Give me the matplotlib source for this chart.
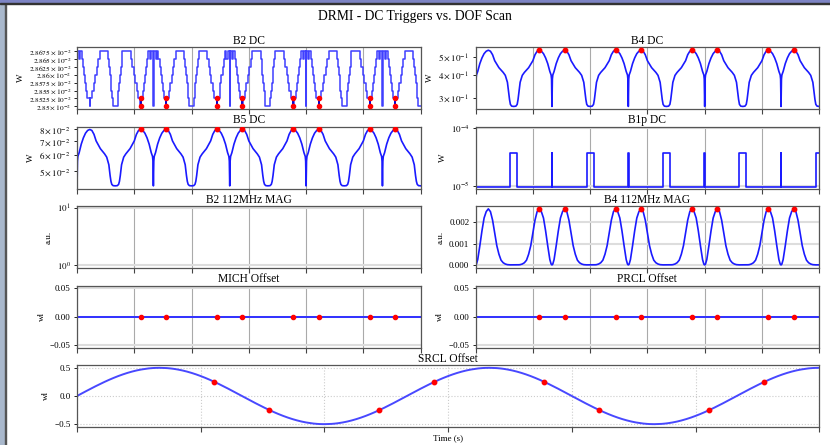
import numpy as np
import matplotlib
matplotlib.use('Agg')
import matplotlib.pyplot as plt
from matplotlib.ticker import NullLocator
from matplotlib.patches import Rectangle

plt.rcParams['font.family'] = 'serif'
plt.rcParams['font.serif'] = ['Liberation Serif', 'DejaVu Serif']
plt.rcParams['mathtext.fontset'] = 'stix'

# scan: 4.5 half-periods of the SRCL sweep (time axis in degrees of scan phase)
T_END = 810
SPAN = 180
srcl_sign = [1, -1, 1, -1, 1]

# sample times within one half-period
cycle_t = [0, 0.5, 1, 2, 5, 10, 15, 20, 25, 30, 35, 40, 45, 50, 55, 60, 65, 70, 75, 78, 80, 82, 85, 90,
           95, 98, 100, 102, 105, 110, 115, 120, 125, 130, 135, 140, 145, 150, 155, 160, 165, 170, 175,
           178, 179, 179.5]

srcl_abs = [0, 0.0044, 0.0087, 0.0174, 0.0436, 0.0868, 0.1294, 0.1710, 0.2113, 0.25, 0.2868, 0.3214,
            0.3536, 0.3830, 0.4096, 0.4330, 0.4532, 0.4698, 0.4830, 0.4891, 0.4924, 0.4951, 0.4981, 0.5,
            0.4981, 0.4951, 0.4924, 0.4891, 0.4830, 0.4698, 0.4532, 0.4330, 0.4096, 0.3830, 0.3536,
            0.3214, 0.2868, 0.25, 0.2113, 0.1710, 0.1294, 0.0868, 0.0436, 0.0174, 0.0087, 0.0044]

b4_dc = [0.270, 0.330, 0.380, 0.400, 0.418, 0.461, 0.495, 0.522, 0.538, 0.545, 0.538, 0.515, 0.478,
         0.458, 0.438, 0.425, 0.413, 0.398, 0.365, 0.322, 0.294, 0.277, 0.271, 0.270,
         0.271, 0.277, 0.294, 0.322, 0.365, 0.398, 0.413, 0.425, 0.438, 0.458, 0.478, 0.515, 0.538,
         0.545, 0.538, 0.522, 0.495, 0.461, 0.418, 0.400, 0.380, 0.330]

b5_dc = [0.0423, 0.050, 0.056, 0.0590, 0.0615, 0.0678, 0.0728, 0.0767, 0.0791, 0.0800, 0.0791, 0.0757,
         0.0703, 0.0673, 0.0644, 0.0625, 0.0607, 0.0585, 0.0537, 0.0475, 0.0445, 0.0430, 0.0424, 0.0423,
         0.0424, 0.0430, 0.0445, 0.0475, 0.0537, 0.0585, 0.0607, 0.0625, 0.0644, 0.0673, 0.0703, 0.0757,
         0.0791, 0.0800, 0.0791, 0.0767, 0.0728, 0.0678, 0.0615, 0.0590, 0.056, 0.050]

b4_mag = [0, 0.000003, 0.00001, 0.00004, 0.00025, 0.0009, 0.0016, 0.0022, 0.0025, 0.00263, 0.0025,
          0.0021, 0.0015, 0.0009, 0.0005, 0.00022, 0.0001, 0.00004, 0.00001, 0.000004, 0, 0, 0, 0,
          0, 0, 0, 0.000004, 0.00001, 0.00004, 0.0001, 0.00022, 0.0005, 0.0009, 0.0015, 0.0021, 0.0025,
          0.00263, 0.0025, 0.0022, 0.0016, 0.0009, 0.00025, 0.00004, 0.00001, 0.000003]

# quantized B2 DC (step starts, values in 1e-2 W)
b2_t = [0, 0.5, 5, 8, 12, 14.5, 17, 19.5, 22, 24, 29.5, 30.5, 36, 39.5, 43, 46, 49.5, 53, 73, 75, 77,
        79, 81, 82.5, 84, 96, 97.5, 99, 101, 103, 105, 107, 127, 130.5, 134, 137, 140.5, 144, 149.5,
        150.5, 156, 158, 160.5, 163, 165.5, 168, 172, 175, 179.5]
b2_dc = [2.85, 2.8675, 2.865, 2.8675, 2.865, 2.8625, 2.86, 2.8575, 2.855, 2.8525, 2.85, 2.8525, 2.855,
         2.8575, 2.86, 2.8625, 2.865, 2.8675, 2.865, 2.8625, 2.86, 2.8575, 2.855, 2.8525, 2.85, 2.8525,
         2.855, 2.8575, 2.86, 2.8625, 2.865, 2.8675, 2.865, 2.8625, 2.86, 2.8575, 2.855, 2.8525, 2.85,
         2.8525, 2.855, 2.8575, 2.86, 2.8625, 2.865, 2.8675, 2.865, 2.8675, 2.85]

b1p_t = [0, 1, 82, 98, 179.5]
b1p_dc = [3.75e-5, 9.6e-6, 3.75e-5, 9.6e-6, 3.75e-5]

mich_t = [0, 810]
mich_off = [0.0, 0.0]
prcl_off = [0.0, 0.0]

# trigger times and marked values
trig_t = [150, 210, 330, 390, 510, 570, 690, 750]
trig_b2_hi = [2.8525] * 8
trig_b2_lo = [2.85] * 8
trig_b4_dc = [0.545] * 8
trig_b5_dc = [0.080] * 8
trig_b4_mag = [0.00263] * 8
trig_mich = [0.0] * 8
trig_prcl = [0.0] * 8
trig_srcl = [0.25, -0.25, -0.25, 0.25, 0.25, -0.25, -0.25, 0.25]

b2_ticks = [2.85, 2.8525, 2.855, 2.8575, 2.86, 2.8625, 2.865, 2.8675]


def unroll(ct, cv, signs=(1, 1, 1, 1, 1)):
    t, v = [], []
    for k, sg in enumerate(signs):
        for a, b in zip(ct, cv):
            if k * SPAN + a <= T_END:
                t.append(k * SPAN + a)
                v.append(sg * b)
    if t[-1] < T_END:
        t.append(T_END)
        v.append(v[-1])
    return np.array(t), np.array(v)


BLUE = '#1a1aff'
FS_TICK = 6.5
FS_TITLE = 8.3

fig = plt.figure(figsize=(8.3, 4.45), dpi=100)
gs = fig.add_gridspec(5, 2, left=0.0928, right=0.987, top=0.894, bottom=0.0405,
                      hspace=0.282, wspace=0.16)

# screenshot window frame
fig.patches.append(Rectangle((0, 0), 5 / 830, 1, transform=fig.transFigure, color='#a9b8cc', zorder=-5))
fig.patches.append(Rectangle((5 / 830, 0), 1.2 / 830, 1, transform=fig.transFigure, color='#555555', zorder=-4))
fig.patches.append(Rectangle((0, 1 - 3 / 445), 1, 3 / 445, transform=fig.transFigure, color='#7d84c4', zorder=-3))
fig.patches.append(Rectangle((0, 1 - 4.2 / 445), 1, 1.2 / 445, transform=fig.transFigure, color='#333333', zorder=-3))


def style(ax, title, ylabel, ygrid=True, dotted=False):
    ax.set_xlim(0, T_END)
    ax.set_xticks(np.linspace(0, T_END, 7))
    ax.tick_params(axis='x', labelbottom=False, direction='out', length=3.5, width=0.8, color='#444444')
    ax.tick_params(axis='y', labelsize=FS_TICK, direction='out', length=2.5, width=0.6, pad=2)
    ax.set_title(title, fontsize=FS_TITLE, pad=2.5)
    ax.set_ylabel(ylabel, fontsize=FS_TICK, labelpad=3)
    ls = ':' if dotted else '-'
    ax.grid(True, axis='x', color='#aaaaaa' if not dotted else '#cccccc', lw=0.8, ls=ls)
    if ygrid:
        ax.grid(True, axis='y', color='#dddddd' if not dotted else '#cccccc', lw=1.5 if not dotted else 0.8, ls=ls)
    for sp in ax.spines.values():
        sp.set_color('#555555')
        sp.set_linewidth(0.9)
    ax.set_axisbelow(True)


def log_labels(ax, ticks, mant, exp):
    ax.set_yticks(ticks)
    ax.set_yticklabels([r'$%s\times10^{%d}$' % (m, exp) for m in mant])
    ax.yaxis.set_minor_locator(NullLocator())


# B2 DC
ax = fig.add_subplot(gs[0, 0])
t, v = unroll(b2_t, b2_dc)
ax.plot(t, v * 1e-2, color='#3f3fff', lw=1.1, drawstyle='steps-post')
ax.vlines(trig_t, np.array(trig_b2_lo) * 1e-2, np.array(trig_b2_hi) * 1e-2, color='#0000cc', lw=1.3, zorder=3)
ax.plot(trig_t, np.array(trig_b2_hi) * 1e-2, 'o', color='red', ms=3, zorder=4)
ax.plot(trig_t, np.array(trig_b2_lo) * 1e-2, 'o', color='red', ms=3, zorder=4)
ax.set_yscale('log')
ax.set_ylim(2.8491e-2, 2.8688e-2)
log_labels(ax, [m * 1e-2 for m in b2_ticks], ['%g' % m for m in b2_ticks], -2)
style(ax, 'B2 DC', 'W', ygrid=False)
ax.tick_params(axis='y', labelsize=5.3, pad=1.5)

# B4 DC
ax = fig.add_subplot(gs[0, 1])
t, v = unroll(cycle_t, b4_dc)
ax.plot(t, v, color=BLUE, lw=1.2)
ax.plot(trig_t, trig_b4_dc, 'o', color='red', ms=3.2, zorder=4)
ax.set_yscale('log')
ax.set_ylim(0.261, 0.566)
log_labels(ax, [0.3, 0.4, 0.5], ['3', '4', '5'], -1)
style(ax, 'B4 DC', 'W', ygrid=False)

# B5 DC
ax = fig.add_subplot(gs[1, 0])
t, v = unroll(cycle_t, b5_dc)
ax.plot(t, v, color=BLUE, lw=1.2)
ax.plot(trig_t, trig_b5_dc, 'o', color='red', ms=3.2, zorder=4)
ax.set_yscale('log')
ax.set_ylim(0.0410, 0.0826)
log_labels(ax, [0.05, 0.06, 0.07, 0.08], ['5', '6', '7', '8'], -2)
style(ax, 'B5 DC', 'W', ygrid=False)

# B1p DC
ax = fig.add_subplot(gs[1, 1])
t, v = unroll(b1p_t, b1p_dc)
ax.plot(t, v, color=BLUE, lw=1.2, drawstyle='steps-post')
ax.set_yscale('log')
ax.set_ylim(8.85e-6, 1.07e-4)
ax.set_yticks([1e-5, 1e-4])
ax.set_yticklabels([r'$10^{-5}$', r'$10^{-4}$'])
ax.yaxis.set_minor_locator(NullLocator())
style(ax, 'B1p DC', 'W')

# B2 112MHz MAG (no positive data)
ax = fig.add_subplot(gs[2, 0])
ax.set_yscale('log')
ax.set_ylim(0.89, 10.6)
ax.set_yticks([1, 10])
ax.set_yticklabels([r'$10^{0}$', r'$10^{1}$'])
ax.yaxis.set_minor_locator(NullLocator())
style(ax, 'B2 112MHz MAG', 'a.u.')

# B4 112MHz MAG
ax = fig.add_subplot(gs[2, 1])
t, v = unroll(cycle_t, b4_mag)
ax.plot(t, v, color=BLUE, lw=1.2)
ax.plot(trig_t, trig_b4_mag, 'o', color='red', ms=3.2, zorder=4)
ax.set_ylim(-0.00015, 0.00276)
ax.set_yticks([0, 0.001, 0.002])
ax.set_yticklabels(['0.000', '0.001', '0.002'])
style(ax, 'B4 112MHz MAG', 'a.u.')

# MICH / PRCL offsets
for pos, vals, trig, name in [(gs[3, 0], mich_off, trig_mich, 'MICH Offset'),
                              (gs[3, 1], prcl_off, trig_prcl, 'PRCL Offset')]:
    ax = fig.add_subplot(pos)
    ax.plot(mich_t, vals, color='#3030ff', lw=1.4)
    ax.plot(trig_t, trig, 'o', color='red', ms=3, zorder=4)
    ax.set_ylim(-0.055, 0.055)
    ax.set_yticks([-0.05, 0, 0.05])
    ax.set_yticklabels(['\u22120.05', '0.00', '0.05'])
    style(ax, name, 'wl')

# SRCL offset
ax = fig.add_subplot(gs[4, :])
t, v = unroll(cycle_t, srcl_abs, srcl_sign)
ax.plot(t, v, color='#4848ff', lw=1.4)
ax.plot(trig_t, trig_srcl, 'o', color='red', ms=3.2, zorder=4)
ax.set_ylim(-0.55, 0.55)
ax.set_yticks([-0.5, 0, 0.5])
ax.set_yticklabels(['\u22120.5', '0.0', '0.5'])
style(ax, 'SRCL Offset', 'wl', dotted=True)
ax.set_xlabel('Time (s)', fontsize=FS_TICK, labelpad=2)

fig.suptitle('DRMI - DC Triggers vs. DOF Scan', fontsize=9.8, y=0.962, va='center')

fig.savefig('out.png', dpi=100)
